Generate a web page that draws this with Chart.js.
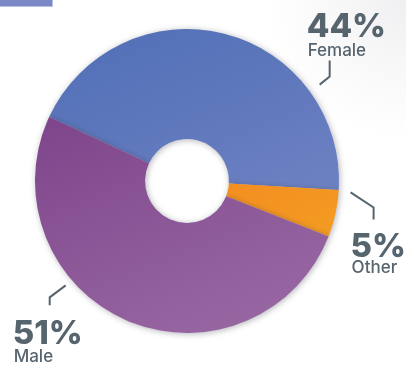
<!DOCTYPE html>
<html>
<head>
<meta charset="utf-8">
<script src="https://cdn.jsdelivr.net/npm/chart.js@4.4.1/dist/chart.umd.min.js"></script>
<style>
  html, body { margin: 0; padding: 0; }
  body {
    width: 406px; height: 366px; overflow: hidden; position: relative;
    background: radial-gradient(circle at 406px 0px, #efeff1 0px, #f7f7f8 60px, #ffffff 140px);
  }
  .tab {
    position: absolute; left: 0; top: 0; width: 52px; height: 6px;
    background: #7b88c8; border-right: 1px solid #b7c0e4; border-bottom: 1px solid #b7c0e4;
  }
  #wrap { position: absolute; left: 0; top: 0; width: 406px; height: 366px; }
</style>
</head>
<body>
<div class="tab"></div>
<div id="wrap"><canvas id="genderChart"></canvas></div>
<script>
const categories = ['Female', 'Other', 'Male'];
const shares = [44, 5, 51];

// gradient stops (top -> bottom) for each slice
const sliceColors = [
  ['#5370b7', '#7889c7'],
  ['#f0741c', '#f5a424'],
  ['#7a3f86', '#9868a3']
];

// callout placement: angle on the rim (deg), elbow offset, tail length,
// text x offset and baselines for the percentage and the name
const callouts = [
  { angle: -36, gap: 12, elbow: [10, -8], tail: -16, dx: -23, pctY: -24, nameY: -5 },
  { angle: 4, gap: 12, elbow: [23, 15], tail: 12, dx: -23, pctY: 38, nameY: 54 },
  { angle: 139.3, gap: 8, elbow: [-16, 12], tail: 8, dx: -37, pctY: 39, nameY: 57 }
];

const inkColor = '#56646e';

const calloutPlugin = {
  id: 'callouts',
  afterDatasetsDraw(chart) {
    const ctx = chart.ctx;
    const meta = chart.getDatasetMeta(0);
    const total = shares.reduce((a, b) => a + b, 0);
    meta.data.forEach((arc, i) => {
      const c = callouts[i];
      const a = c.angle * Math.PI / 180;
      const r = arc.outerRadius + c.gap;
      const x0 = arc.x + Math.cos(a) * r;
      const y0 = arc.y + Math.sin(a) * r;
      const x1 = x0 + c.elbow[0];
      const y1 = y0 + c.elbow[1];
      const y2 = y1 + c.tail;

      ctx.save();
      ctx.strokeStyle = inkColor;
      ctx.lineWidth = 2;
      ctx.beginPath();
      ctx.moveTo(x0, y0);
      ctx.lineTo(x1, y1);
      ctx.lineTo(x1, y2);
      ctx.stroke();

      const pct = Math.round(shares[i] / total * 100) + '%';
      const tx = x1 + c.dx;
      ctx.fillStyle = inkColor;
      ctx.textAlign = 'left';
      ctx.textBaseline = 'alphabetic';
      ctx.font = '800 33px Inter';
      ctx.fillText(pct, tx, y2 + c.pctY);
      ctx.font = '500 17px Inter';
      ctx.fillText(categories[i], tx + 1, y2 + c.nameY);
      ctx.restore();
    });
  }
};

const shadowPlugin = {
  id: 'sliceShadow',
  beforeDatasetsDraw(chart) {
    const ctx = chart.ctx;
    ctx.save();
    ctx.shadowColor = 'rgba(40, 40, 60, 0.35)';
    ctx.shadowBlur = 6;
    ctx.shadowOffsetX = 1;
    ctx.shadowOffsetY = 1;
  },
  afterDatasetsDraw(chart) {
    chart.ctx.restore();
  }
};

new Chart(document.getElementById('genderChart'), {
  type: 'doughnut',
  data: {
    labels: categories,
    datasets: [{
      data: shares,
      borderWidth: 0,
      backgroundColor(context) {
        const area = context.chart.chartArea;
        if (!area) return sliceColors[context.dataIndex][0];
        const g = context.chart.ctx.createLinearGradient(area.left + 90, area.top, area.right - 90, area.bottom);
        g.addColorStop(0, sliceColors[context.dataIndex][0]);
        g.addColorStop(1, sliceColors[context.dataIndex][1]);
        return g;
      }
    }]
  },
  options: {
    responsive: true,
    maintainAspectRatio: false,
    animation: false,
    rotation: 295,
    cutout: '27.6%',
    layout: { padding: { left: 35, right: 67, top: 29, bottom: 33 } },
    plugins: {
      legend: { display: false },
      tooltip: { enabled: false }
    }
  },
  plugins: [shadowPlugin, calloutPlugin]
});
</script>
</body>
</html>
